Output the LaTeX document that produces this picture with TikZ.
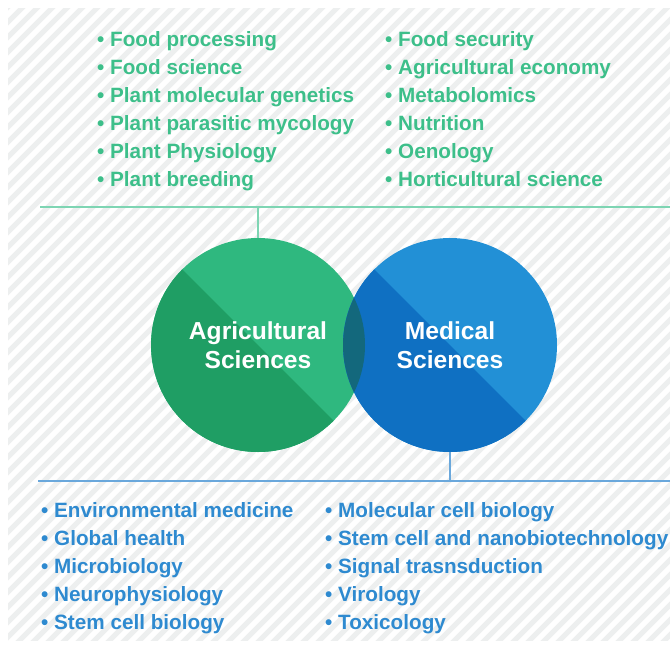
\documentclass[tikz,border=0pt]{standalone}
\usepackage{fontspec}
\setmainfont{Liberation Sans}
\usetikzlibrary{positioning}

\definecolor{agrilight}{HTML}{2FB87F}
\definecolor{agridark}{HTML}{1F9E64}
\definecolor{medlight}{HTML}{2290D6}
\definecolor{meddark}{HTML}{0F70C2}
\definecolor{lens}{HTML}{13687C}
\definecolor{agritext}{HTML}{3DBF8A}
\definecolor{medtext}{HTML}{2E8AD0}
\definecolor{agriline}{HTML}{7ED5B3}
\definecolor{medline}{HTML}{6AA8DC}
\definecolor{hatch}{HTML}{EDEFEF}

\tikzset{
	item/.style={anchor=base west, inner sep=0pt, font=\fontsize{20.7}{24}\selectfont\bfseries},
	agriitem/.style={item, text=agritext},
	meditem/.style={item, text=medtext},
	field/.style={circle, minimum size=214pt, inner sep=0pt, align=center, text=white,
		font=\fontsize{24.6}{29}\selectfont\bfseries},
	agrirule/.style={agriline, line width=1.5pt},
	medrule/.style={medline, line width=1.5pt},
}

\begin{document}
\begin{tikzpicture}[x=1pt,y=-1pt]
					\useasboundingbox (0,0) rectangle (670,646);

					% striped ground
					\begin{scope}
						\clip (8,8) rectangle (670,640);
						\foreach \i in {0,15,...,1335}
							\draw[hatch, line width=5pt] (\i-660,660) -- (\i,0);
					\end{scope}

					% the two fields
					\fill[agrilight] (258,345) circle (107);
					\begin{scope}
						\clip (258,345) circle (107);
						\fill[agridark] (151,238) -- (365,452) -- (151,452) -- cycle;
					\end{scope}
					\fill[medlight] (450,345) circle (107);
					\begin{scope}
						\clip (450,345) circle (107);
						\fill[meddark] (343,238) -- (557,452) -- (343,452) -- cycle;
						\clip (258,345) circle (107);
						\fill[lens] (150,230) rectangle (560,460);
					\end{scope}

					\node[field] (agri) at (258,345) {Agricultural\\Sciences};
					\node[field] (med) at (450,345) {Medical\\Sciences};

					% rules
					\coordinate (agriL) at (40,207);
					\coordinate (agriR) at (670,207);
					\coordinate (medL) at (38,481);
					\coordinate (medR) at (670,481);
					\draw[agrirule] (agriL) -- (agriR);
					\draw[agrirule] (agri.north) -- (agri.north |- agriL);
					\draw[medrule] (medL) -- (medR);
					\draw[medrule] (med.south) -- (med.south |- medL);

					% agricultural topics
					\node[agriitem] (fproc) at (97,46) {\textbullet{} Food processing};
					\node[agriitem] (fsci) at (97,74) {\textbullet{} Food science};
					\node[agriitem] (pmol) at (97,102) {\textbullet{} Plant molecular genetics};
					\node[agriitem] (ppar) at (97,130) {\textbullet{} Plant parasitic mycology};
					\node[agriitem] (pphys) at (97,158) {\textbullet{} Plant Physiology};
					\node[agriitem] (pbreed) at (97,186) {\textbullet{} Plant breeding};

					\node[agriitem] (fsec) at (385,46) {\textbullet{} Food security};
					\node[agriitem] (aecon) at (385,74) {\textbullet{} Agricultural economy};
					\node[agriitem] (metab) at (385,102) {\textbullet{} Metabolomics};
					\node[agriitem] (nutr) at (385,130) {\textbullet{} Nutrition};
					\node[agriitem] (oeno) at (385,158) {\textbullet{} Oenology};
					\node[agriitem] (hort) at (385,186) {\textbullet{} Horticultural science};

					% medical topics
					\node[meditem] (envm) at (41,517) {\textbullet{} Environmental medicine};
					\node[meditem] (glob) at (41,545) {\textbullet{} Global health};
					\node[meditem] (micro) at (41,573) {\textbullet{} Microbiology};
					\node[meditem] (neuro) at (41,601) {\textbullet{} Neurophysiology};
					\node[meditem] (stem) at (41,629) {\textbullet{} Stem cell biology};

					\node[meditem] (molc) at (325,517) {\textbullet{} Molecular cell biology};
					\node[meditem] (nano) at (325,545) {\textbullet{} Stem cell and nanobiotechnology};
					\node[meditem] (sign) at (325,573) {\textbullet{} Signal trasnsduction};
					\node[meditem] (viro) at (325,601) {\textbullet{} Virology};
					\node[meditem] (toxi) at (325,629) {\textbullet{} Toxicology};

				\end{tikzpicture}
\end{document}
